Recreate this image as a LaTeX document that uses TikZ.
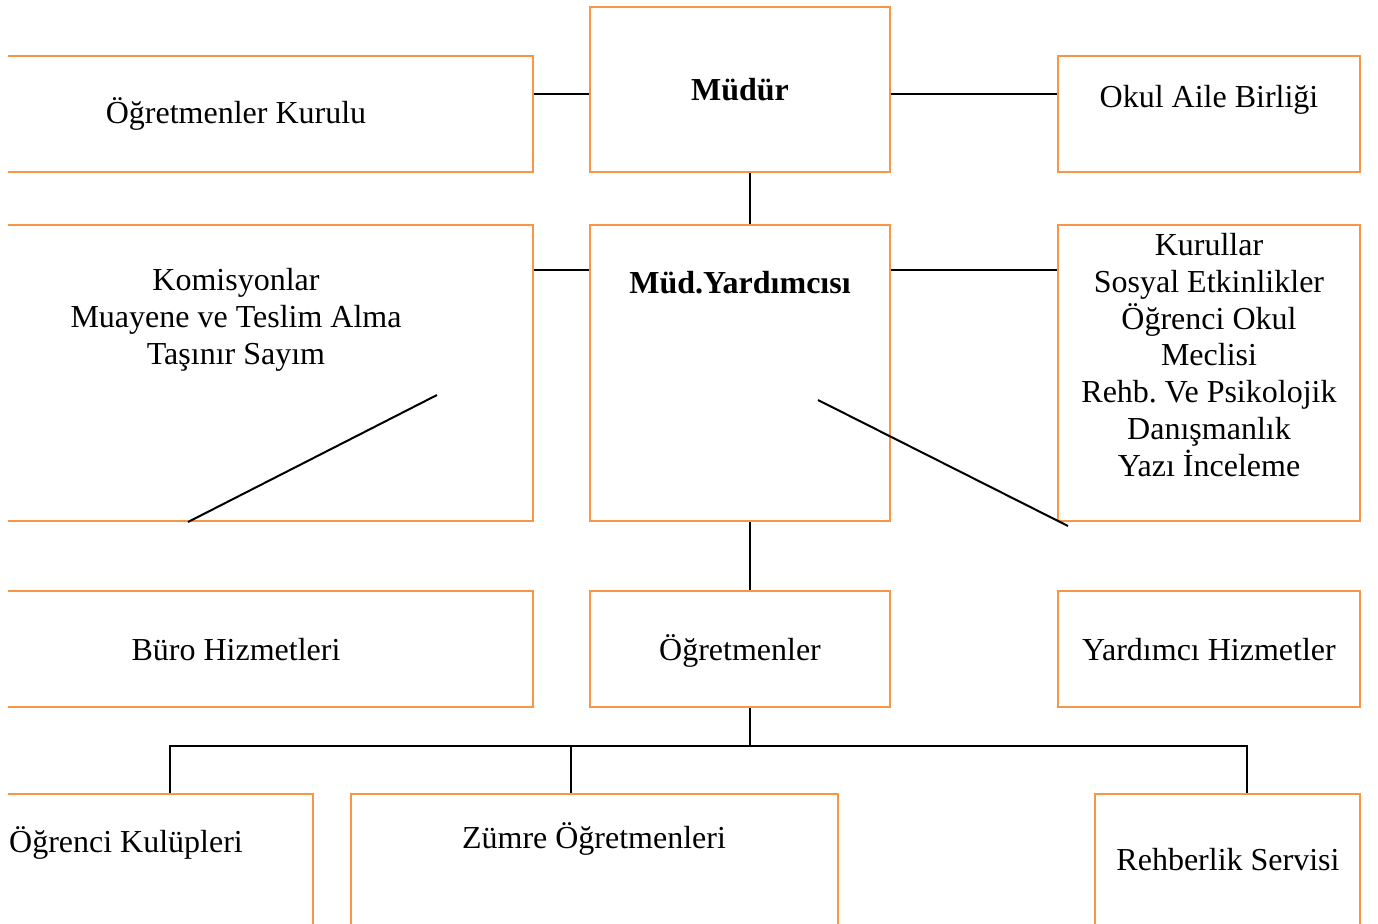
\documentclass[tikz,border=0pt]{standalone}
\usepackage{fontspec}
\setmainfont{Liberation Serif}
\definecolor{boxorange}{HTML}{F79646}
\frenchspacing
\begin{document}
\begin{tikzpicture}[x=0.5pt,y=-0.5pt,
  orgbox/.style={draw=boxorange,line width=1pt,inner sep=0pt,rectangle},
  lbl/.style={inner sep=0pt,font=\fontsize{16}{18.35}\selectfont,align=center},
  link/.style={draw=black,line width=1pt}]
\useasboundingbox (0,0) rectangle (1378,923);
\clip (8,0) rectangle (1378,923);
% boxes
\node[orgbox,minimum width=573*0.5pt,minimum height=116*0.5pt] (kurulu) at (246.5,114) {};
\node[orgbox,minimum width=300*0.5pt,minimum height=165*0.5pt] (mudur) at (740,89.5) {};
\node[orgbox,minimum width=302*0.5pt,minimum height=116*0.5pt] (okul) at (1209,114) {};
\node[orgbox,minimum width=573*0.5pt,minimum height=296*0.5pt] (komis) at (246.5,373) {};
\node[orgbox,minimum width=300*0.5pt,minimum height=296*0.5pt] (yard) at (740,373) {};
\node[orgbox,minimum width=302*0.5pt,minimum height=296*0.5pt] (kurul) at (1209,373) {};
\node[orgbox,minimum width=573*0.5pt,minimum height=116*0.5pt] (buro) at (246.5,649) {};
\node[orgbox,minimum width=300*0.5pt,minimum height=116*0.5pt] (ogrt) at (740,649) {};
\node[orgbox,minimum width=302*0.5pt,minimum height=116*0.5pt] (yhiz) at (1209,649) {};
\node[orgbox,minimum width=373*0.5pt,minimum height=180*0.5pt] (kulup) at (126.5,884) {};
\node[orgbox,minimum width=487*0.5pt,minimum height=180*0.5pt] (zumre) at (594.5,884) {};
\node[orgbox,minimum width=265*0.5pt,minimum height=180*0.5pt] (rehb) at (1227.5,884) {};
% labels
\node[lbl,anchor=base] (t1) at (236,123) {Öğretmenler Kurulu};
\node[lbl,anchor=base,font=\fontsize{16}{18.35}\selectfont\bfseries] (t2) at (740,100) {Müdür};
\node[lbl,anchor=base] (t3) at (1209,107) {Okul Aile Birliği};
\node[lbl,anchor=center] (t4) at (236,320) {Komisyonlar\\Muayene ve Teslim Alma\\Taşınır Sayım};
\node[lbl,anchor=base,font=\fontsize{16}{18.35}\selectfont\bfseries] (t5) at (740,293) {Müd.Yardımcısı};
\node[lbl,anchor=center] (t6) at (1209,355) {Kurullar\\Sosyal Etkinlikler\\Öğrenci Okul\\Meclisi\\Rehb. Ve Psikolojik\\Danışmanlık\\Yazı İnceleme};
\node[lbl,anchor=base] (t7) at (236,660) {Büro Hizmetleri};
\node[lbl,anchor=base] (t8) at (740,660) {Öğretmenler};
\node[lbl,anchor=base] (t9) at (1209,660) {Yardımcı Hizmetler};
\node[lbl,anchor=base] (t10) at (126,852) {Öğrenci Kulüpleri};
\node[lbl,anchor=base] (t11) at (594,848) {Zümre Öğretmenleri};
\node[lbl,anchor=base] (t12) at (1228,870) {Rehberlik Servisi};
% connector helper coordinates
\coordinate (r1) at (0,94);
\coordinate (r2) at (0,270);
\coordinate (cx) at (750,0);
\coordinate (bus) at (0,746);
\coordinate (d1a) at (437,395);
\coordinate (d1b) at (188,522);
\coordinate (d2a) at (818,400);
\coordinate (d2b) at (1068,526);
% connectors
\draw[link] (kurulu.east |- r1) -- (mudur.west |- r1);
\draw[link] (mudur.east |- r1) -- (okul.west |- r1);
\draw[link] (mudur.south -| cx) -- (yard.north -| cx);
\draw[link] (komis.east |- r2) -- (yard.west |- r2);
\draw[link] (yard.east |- r2) -- (kurul.west |- r2);
\draw[link] (yard.south -| cx) -- (ogrt.north -| cx);
\draw[link] (d1a) -- (d1b);
\draw[link] (d2a) -- (d2b);
\draw[link] (ogrt.south -| cx) -- (cx |- bus);
\coordinate (k1) at (170,746);
\coordinate (k2) at (571,746);
\coordinate (k3) at (1247,746);
\draw[link] (kulup.north -| k1) -- (k1) -- (k3) -- (rehb.north -| k3);
\draw[link] (k2) -- (zumre.north -| k2);
\end{tikzpicture}
\end{document}
